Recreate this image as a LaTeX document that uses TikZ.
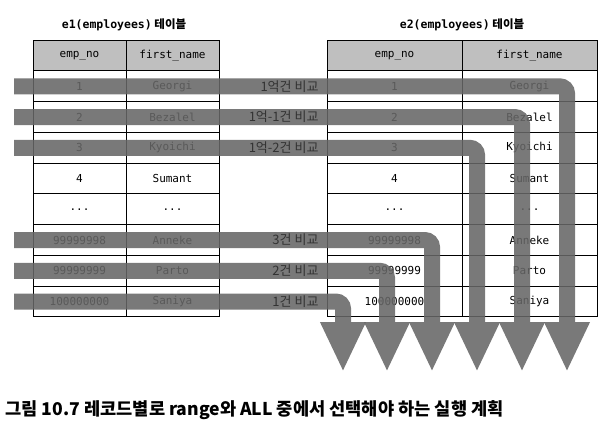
\documentclass[tikz,border=0pt]{standalone}
\usepackage{fontspec}
\setmainfont{Noto Sans CJK KR}
\setmonofont{DejaVu Sans Mono}
\usetikzlibrary{arrows.meta}

\newcommand{\celldots}{...}

\begin{document}
\begin{tikzpicture}[x=1pt, y=-1pt,
    cell/.style={draw, line width=1pt, minimum height=30.75pt, inner sep=0pt,
                 font=\ttfamily\fontsize{11}{12}\selectfont},
    head cell/.style={cell, fill=black!25},
    scan bar/.style={draw=black!60, line width=16pt, rounded corners=7pt,
                     -{Triangle[width=42pt, length=50pt]}},
    bar label/.style={anchor=east, text=black!80, font=\fontsize{13}{15}\selectfont}]

  \useasboundingbox (0,0) rectangle (611,436);

  % table titles
  \node (e1title) at (124,25) {\fontsize{11.5}{13}\selectfont{\ttfamily\bfseries e1(employees)} \bfseries 테이블};
  \node (e2title) at (462,25) {\fontsize{11.5}{13}\selectfont{\ttfamily\bfseries e2(employees)} \bfseries 테이블};

  % headers
  \node[head cell, minimum width=93pt] (e1nohead) at (79.5,55.5) {emp\_no};
  \node[head cell, minimum width=93pt] (e1namehead) at (172.5,55.5) {first\_name};
  \node[head cell, minimum width=135pt] (e2nohead) at (394.5,55.5) {emp\_no};
  \node[head cell, minimum width=135pt] (e2namehead) at (529.5,55.5) {first\_name};

  % rows
  \foreach \no/\name [count=\i] in {1/Georgi, 2/Bezalel, 3/Kyoichi, 4/Sumant,
      \celldots/\celldots, 99999998/Anneke, 99999999/Parto, 100000000/Saniya} {
    \node[cell, minimum width=93pt] (e1no\i) at (79.5, 55.6+30.75*\i) {\no};
    \node[cell, minimum width=93pt] (e1name\i) at (172.5, 55.6+30.75*\i) {\name};
    \node[cell, minimum width=135pt] (e2no\i) at (394.5, 55.6+30.75*\i) {\no};
    \node[cell, minimum width=135pt] (e2name\i) at (529.5, 55.6+30.75*\i) {\name};
  }

  % start and end points of the scans
  \coordinate (s1) at (14,86.4);   \coordinate (t1) at (567,372);
  \coordinate (s2) at (14,117.1);  \coordinate (t2) at (522,372);
  \coordinate (s3) at (14,147.9);  \coordinate (t3) at (477,372);
  \coordinate (s6) at (14,240.1);  \coordinate (t6) at (432,372);
  \coordinate (s7) at (14,270.9);  \coordinate (t7) at (387,372);
  \coordinate (s8) at (14,301.6);  \coordinate (t8) at (343,372);

  \foreach \r in {1,2,3,6,7,8} {
    \begin{scope}[transparency group, opacity=0.88]
      \draw[scan bar] (s\r) -| (t\r);
    \end{scope}
  }

  \node[bar label] (c1) at (322,86.4) {1억건 비교};
  \node[bar label] (c2) at (322,117.1) {1억-1건 비교};
  \node[bar label] (c3) at (322,147.9) {1억-2건 비교};
  \node[bar label] (c6) at (322,240.1) {3건 비교};
  \node[bar label] (c7) at (322,270.9) {2건 비교};
  \node[bar label] (c8) at (322,301.6) {1건 비교};

  % caption
  \node[anchor=west, font=\fontsize{17.6}{20}\selectfont\bfseries] (caption) at (2,410)
    {그림 10.7 레코드별로 range와 ALL 중에서 선택해야 하는 실행 계획};
\end{tikzpicture}
\end{document}
